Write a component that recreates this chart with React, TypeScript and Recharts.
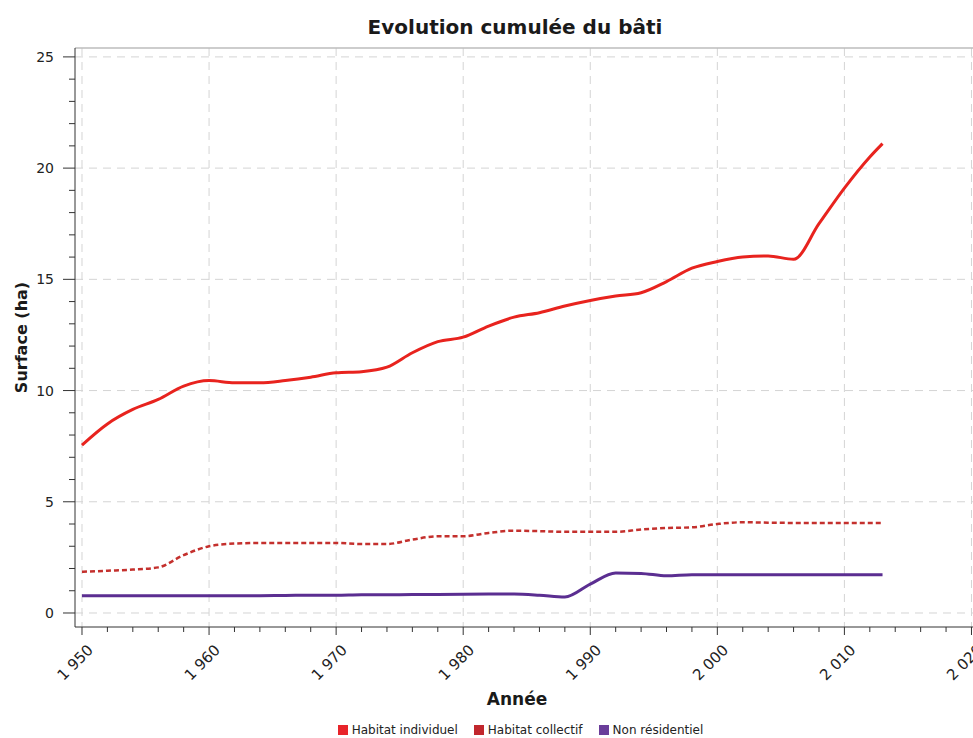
import React from 'react';
import { LineChart, Line, XAxis, YAxis, CartesianGrid, Legend, ReferenceLine } from 'recharts';

const years = [1950, 1952, 1954, 1956, 1958, 1960, 1962, 1964, 1966, 1968, 1970, 1972, 1974, 1976, 1978, 1980, 1982, 1984, 1986, 1988, 1990, 1992, 1994, 1996, 1998, 2000, 2002, 2004, 2006, 2008, 2010, 2012, 2013];

const habitatIndividuel = [7.55, 8.5, 9.15, 9.6, 10.2, 10.45, 10.35, 10.35, 10.45, 10.6, 10.8, 10.85, 11.05, 11.7, 12.2, 12.4, 12.9, 13.3, 13.5, 13.8, 14.05, 14.25, 14.4, 14.9, 15.5, 15.8, 16.0, 16.05, 15.9, 17.5, 19.1, 20.5, 21.1];

const habitatCollectif = [1.85, 1.9, 1.95, 2.05, 2.6, 3.0, 3.12, 3.15, 3.15, 3.15, 3.15, 3.1, 3.1, 3.3, 3.45, 3.45, 3.6, 3.7, 3.68, 3.65, 3.65, 3.65, 3.75, 3.82, 3.85, 4.0, 4.08, 4.06, 4.05, 4.05, 4.05, 4.04, 4.04];

const nonResidentiel = [0.77, 0.77, 0.77, 0.77, 0.77, 0.77, 0.78, 0.78, 0.79, 0.8, 0.8, 0.82, 0.82, 0.83, 0.83, 0.84, 0.85, 0.85, 0.8, 0.72, 1.3, 1.8, 1.78, 1.67, 1.72, 1.72, 1.72, 1.72, 1.72, 1.72, 1.72, 1.72, 1.72];

const xTicks = [1950, 1952, 1954, 1956, 1958, 1960, 1962, 1964, 1966, 1968, 1970, 1972, 1974, 1976, 1978, 1980, 1982, 1984, 1986, 1988, 1990, 1992, 1994, 1996, 1998, 2000, 2002, 2004, 2006, 2008, 2010, 2012, 2014, 2016, 2018, 2020];
const decades = [1950, 1960, 1970, 1980, 1990, 2000, 2010, 2020];
const yTicks = [0, 1, 2, 3, 4, 5, 6, 7, 8, 9, 10, 11, 12, 13, 14, 15, 16, 17, 18, 19, 20, 21, 22, 23, 24, 25];
const yMajors = [0, 5, 10, 15, 20, 25];

const series = [
  { key: 'indiv', name: 'Habitat individuel', color: '#e8231e', legend: '#e8242a' },
  { key: 'coll', name: 'Habitat collectif', color: '#c4302d', legend: '#c1272d' },
  { key: 'nonres', name: 'Non résidentiel', color: '#5b2e91', legend: '#6a3d9a' },
];

const data = years.map((year, i) => ({
  year,
  indiv: habitatIndividuel[i],
  coll: habitatCollectif[i],
  nonres: nonResidentiel[i],
}));

const FONT = '"DejaVu Sans", Verdana, sans-serif';

const formatYear = (v: number) => {
  const s = String(v);
  return s.slice(0, 1) + ' ' + s.slice(1);
};

const XTick = (props: any) => {
  const { x, y, payload } = props;
  const major = payload.value % 10 === 0;
  return (
    <g>
      <line x1={x} x2={x} y1={y} y2={y + (major ? 8 : 5)} stroke="#333" />
      {major && (
        <text
          transform={`translate(${x + 12},${y + 24}) rotate(-45)`}
          textAnchor="end"
          fontSize={15}
          fontFamily={FONT}
          fill="#222"
        >
          {formatYear(payload.value)}
        </text>
      )}
    </g>
  );
};

const YTick = (props: any) => {
  const { x, y, payload } = props;
  const major = payload.value % 5 === 0;
  return (
    <g>
      <line x1={x} x2={x - (major ? 12 : 6)} y1={y} y2={y} stroke="#333" />
      {major && (
        <text x={x - 21} y={y} dy={5} textAnchor="end" fontSize={14} fontFamily={FONT} fill="#222">
          {payload.value}
        </text>
      )}
    </g>
  );
};

const LegendContent = () => (
  <div
    style={{
      display: 'flex',
      justifyContent: 'center',
      paddingLeft: 84,
      paddingTop: 8,
      height: 25,
      boxSizing: 'border-box',
      fontFamily: FONT,
      fontSize: 12,
      color: '#222',
    }}
  >
    {series.map((s) => (
      <span key={s.key} style={{ display: 'flex', alignItems: 'center', marginRight: 16 }}>
        <span style={{ width: 10, height: 10, background: s.legend, marginRight: 4, display: 'inline-block' }} />
        {s.name}
      </span>
    ))}
  </div>
);

export default function App() {
  return (
    <div style={{ position: 'absolute', left: 0, top: 0, width: 973, height: 738, background: '#fff' }}>
      <div
        style={{
          position: 'absolute',
          top: 15,
          left: 0,
          width: 1030,
          textAlign: 'center',
          fontFamily: FONT,
          fontWeight: 'bold',
          fontSize: 20,
          color: '#1a1a1a',
        }}
      >
        Evolution cumulée du bâti
      </div>
      <LineChart width={973} height={738} data={data} margin={{ top: 48, right: 0, left: 15, bottom: 0 }}>
        <CartesianGrid
          stroke="#d4d4d4"
          strokeDasharray="8 6"
          horizontalValues={yMajors}
          verticalValues={decades}
        />
        <ReferenceLine y={25.4} stroke="#bdbdbd" strokeWidth={1.5} ifOverflow="visible" />
        <XAxis
          dataKey="year"
          type="number"
          domain={[1949.45, 2020.12]}
          allowDataOverflow
          ticks={xTicks}
          interval={0}
          tick={<XTick />}
          tickLine={false}
          tickSize={0}
          tickMargin={0}
          axisLine={{ stroke: '#333' }}
          height={86}
          label={{
            value: 'Année',
            position: 'insideBottom',
            offset: 8,
            dx: -7,
            style: { fontFamily: FONT, fontWeight: 'bold', fontSize: 17, fill: '#1a1a1a' },
          }}
        />
        <YAxis
          type="number"
          domain={[-0.63, 25.4]}
          allowDataOverflow
          ticks={yTicks}
          interval={0}
          tick={<YTick />}
          tickLine={false}
          tickSize={0}
          tickMargin={0}
          axisLine={{ stroke: '#333' }}
          width={60}
          label={{
            value: 'Surface (ha)',
            angle: -90,
            position: 'insideLeft',
            offset: 6,
            style: { textAnchor: 'middle', fontFamily: FONT, fontWeight: 'bold', fontSize: 16, fill: '#1a1a1a' },
          }}
        />
        <Legend verticalAlign="bottom" content={<LegendContent />} wrapperStyle={{ left: 0, width: 973, height: 25 }} />
        {series.map((s) => (
          <Line
            key={s.key}
            dataKey={s.key}
            name={s.name}
            type="monotone"
            stroke={s.color}
            strokeWidth={s.key === 'coll' ? 2.5 : 3}
            strokeDasharray={s.key === 'coll' ? '5 3' : undefined}
            dot={false}
            isAnimationActive={false}
          />
        ))}
      </LineChart>
    </div>
  );
}
